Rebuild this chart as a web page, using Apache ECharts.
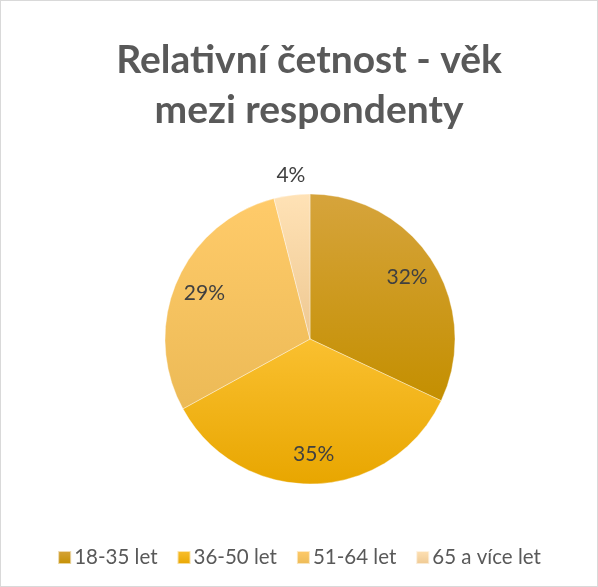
<!DOCTYPE html>
<html>
<head>
<meta charset="utf-8">
<script src="https://cdn.jsdelivr.net/npm/echarts@6/dist/echarts.min.js"></script>
<style>
  html, body { margin: 0; padding: 0; background: #fff; }
  #chart { width: 596px; height: 585px; border: 1px solid #d9d9d9; }
</style>
</head>
<body>
<div id="chart"></div>
<script>
const categories = ["18-35 let", "36-50 let", "51-64 let", "65 a více let"];
const shares = [32, 35, 29, 4];
const gradients = [
  ["#d6a43c", "#c48f00"],
  ["#fac030", "#e8a600"],
  ["#ffcb6a", "#ecba56"],
  ["#ffe2b6", "#eec891"]
];

const font = "Lato, 'Open Sans', sans-serif";

function fill(pair) {
  return new echarts.graphic.LinearGradient(0, 0, 0, 1, [
    { offset: 0, color: pair[0] },
    { offset: 1, color: pair[1] }
  ]);
}

// the small slice keeps its label outside, the rest go on the overlay series
const pieData = categories.map((name, i) => ({
  name,
  value: shares[i],
  itemStyle: { color: fill(gradients[i]) },
  label: { show: i === 3 }
}));

const labelData = categories.map((name, i) => ({
  name,
  value: shares[i],
  label: { show: i !== 3 }
}));

const chart = echarts.init(document.getElementById("chart"), null, { renderer: "canvas" });
chart.setOption({
  animation: false,
  title: {
    text: "Relativní četnost - věk\nmezi respondenty",
    left: 303,
    textAlign: "center",
    top: 29,
    textStyle: {
      fontFamily: font,
      fontSize: 39,
      fontWeight: "bold",
      color: "#595959",
      lineHeight: 50
    }
  },
  legend: {
    bottom: 13,
    left: "center",
    itemWidth: 13,
    itemHeight: 13,
    itemGap: 19,
    icon: "rect",
    data: categories,
    textStyle: { fontFamily: font, fontSize: 20.5, color: "#595959", padding: [0, 0, 0, -2] }
  },
  series: [
    {
      type: "pie",
      center: [309, 338],
      radius: [0, 145],
      startAngle: 90,
      clockwise: true,
      data: pieData,
      itemStyle: { borderColor: "rgba(255,255,255,0.6)", borderWidth: 0.6 },
      label: {
        position: "outside",
        formatter: "{c}%",
        fontFamily: font,
        fontSize: 21,
        color: "#404040"
      },
      labelLine: { show: false, length: 3, length2: 0 },
      labelLayout: { dx: 19, dy: -17 },
      emphasis: { disabled: true }
    },
    {
      type: "pie",
      center: [309, 338],
      radius: [0, 224],
      startAngle: 90,
      clockwise: true,
      silent: true,
      legendHoverLink: false,
      data: labelData,
      itemStyle: { color: "rgba(0,0,0,0)" },
      label: {
        position: "inside",
        formatter: "{c}%",
        fontFamily: font,
        fontSize: 21,
        color: "#404040"
      },
      labelLine: { show: false },
      emphasis: { disabled: true },
      tooltip: { show: false }
    }
  ]
});
</script>
</body>
</html>
